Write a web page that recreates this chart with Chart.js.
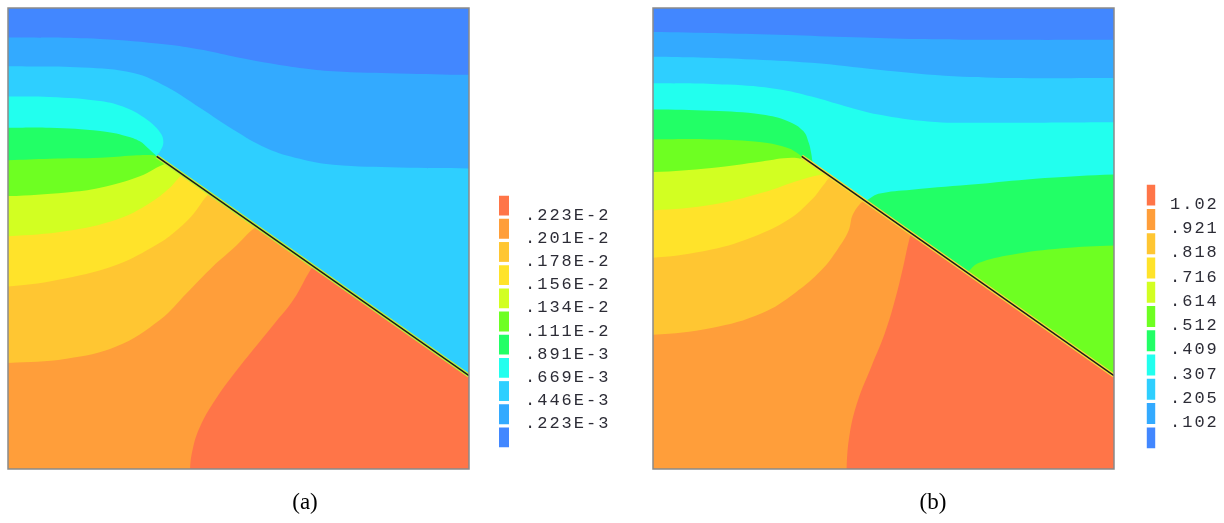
<!DOCTYPE html>
<html>
<head>
<meta charset="utf-8">
<script src="https://cdn.jsdelivr.net/npm/chart.js@4.4.1/dist/chart.umd.min.js"></script>
<style>
  body { margin: 0; background: #fff; width: 1224px; height: 523px; overflow: hidden; }
  canvas { position: absolute; top: 0; }
</style>
</head>
<body>
<canvas id="plotA" width="602" height="523" style="left:0"></canvas>
<canvas id="plotB" width="568" height="523" style="left:645px"></canvas>
<canvas id="keyA" width="140" height="523" style="left:490px"></canvas>
<canvas id="keyB" width="87" height="523" style="left:1137px"></canvas>
<script>
// band colours, lowest level first
const bandColors = ["#4287FF", "#33AAFF", "#2ECFFF", "#22FFEE", "#22FF66", "#6EFF22",
  "#D2FF22", "#FFE32A", "#FFC632", "#FF9E3A", "#FF7548"];

// legend labels, top to bottom as printed
const labelsA = [".223E-2", ".201E-2", ".178E-2", ".156E-2", ".134E-2", ".111E-2", ".891E-3", ".669E-3", ".446E-3", ".223E-3"];
const labelsB = ["1.02", ".921", ".818", ".716", ".614", ".512", ".409", ".307", ".205", ".102"];

// crack: tip, then end on the right edge (plate coords 0..100)
const crack = [[32.25, 67.83], [100, 20.25]];

// contour lines between band k and k+1, left to right
// a bare number = x position on the crack (the line follows the crack there)
const contoursA = [
  [[0, 93.6], [20, 93.3], [34.4, 92.1], [41.7, 91], [48.9, 89.5], [56.1, 88.1], [63.3, 87], [70.6, 86.3], [85, 85.8], [100, 85.5]],
  [[0, 87.35], [16.3, 87.1], [27.2, 85.9], [34.4, 82.9], [41.7, 78.3], [48.9, 73.6], [56.1, 69.6], [63.3, 67.3], [70.6, 66], [85, 65.4], [100, 65.2]],
  [[0, 80.8], [9.1, 80.7], [20, 79.8], [25.7, 78.3], [30.1, 75.8], [33, 73], [33.7, 70.9], [33, 68.9], 32.25, 100],
  [[0, 74], [9.1, 74], [20, 73.3], [25.7, 72.2], [28.6, 71.1], [30.4, 69.6], [31.9, 68.2], 32.25, 100],
  [[0, 67], [9.1, 67.3], [20, 67.5], [27.2, 68], [30.8, 68.1], 32.25, 100],
  [[0, 59.2], [12.7, 60], [20, 61], [28.6, 63.5], 34.4, 100],
  [[0, 50.5], [12.7, 51.6], [23.6, 54.1], [30.8, 57.7], [35.1, 61], 37.9, 100],
  [[0, 39.6], [12.7, 41.4], [23.6, 44.3], [32.3, 48.7], [35.9, 51.2], [39.8, 54.8], 43.7, 100],
  [[0, 23], [12.7, 23.9], [23.6, 26.6], [33, 32.4], [38.8, 38.2], [44.5, 44], [48.9, 47.9], 53.9, 100],
  [[39.5, 0], [40.2, 4.9], [41.7, 9.3], [44.5, 14.3], [48.9, 20.5], [57.6, 31.3], [61.9, 36.7], 66.2, 100],
];
const contoursB = [
  [[0, 94.8], [27.2, 94.2], [41.7, 93.7], [56.1, 93.3], [77.8, 93.1], [100, 93.1]],
  [[0, 89.4], [20, 88.9], [34.4, 88.1], [48.9, 86.6], [63.3, 85.3], [77.8, 84.8], [100, 84.8]],
  [[0, 83.7], [16.3, 83.4], [27.2, 82.4], [34.4, 80.8], [41.7, 78.7], [48.9, 76.9], [59.7, 75.4], [70.6, 75.1], [100, 75.2]],
  [[0, 78], [12.7, 77.7], [23.6, 76.9], [29.4, 75.4], [32.6, 73.3], [33.8, 70.7], [34.3, 68.6], 34.8, 46.0,
    [48.9, 59.7], [56.1, 60.6], [70.6, 61.8], [85, 63.1], [100, 63.9]],
  [[0, 71.5], [12.7, 71.5], [23.6, 70.9], [29.4, 69.6], [31.5, 68.4], 32.25, 68.0,
    [70.6, 44.7], [77.8, 46.5], [88.7, 47.9], [100, 48.5]],
  [[0, 64.4], [12.7, 65.3], [23.6, 66.7], [30.1, 67.5], 33.7, 100],
  [[0, 56.1], [12.7, 57.3], [23.6, 59.9], [32.3, 62.8], 37.7, 100],
  [[0, 45.8], [12.7, 47.6], [22.1, 50.5], [29.4, 54.1], [34.4, 58.4], [37.3, 62], 38.6, 100],
  [[0, 29.1], [12.7, 30.6], [23.6, 33.8], [30.8, 38.2], [36.6, 43.2], [40.2, 47.9], [42.4, 51.6], [43.4, 55.3], 45.8, 100],
  [[42, 0], [42.7, 7.8], [44.5, 15], [47.4, 22.3], [50.3, 29.5], [52.5, 36.7], [54.3, 44], [55.5, 49.4], 56.1, 100],
];

const crackY = x => crack[0][1] + (crack[1][1] - crack[0][1]) * (x - crack[0][0]) / (crack[1][0] - crack[0][0]);

// region "below level k" = everything above the contour line, closed round the top of the plate
function outline(line) {
  const pts = [];
  line.forEach((p, i) => {
    if (typeof p === "number") {
      if (typeof line[i - 1] === "number") pts.push({ x: p - 0.8, y: crackY(p - 0.8) });
      pts.push({ x: p, y: crackY(p) });
      if (typeof line[i + 1] === "number") pts.push({ x: p + 0.8, y: crackY(p + 0.8) });
    } else {
      pts.push({ x: p[0], y: p[1] });
    }
  });
  const first = pts[0], last = pts[pts.length - 1];
  const head = first.x <= 0 ? [{ x: -10, y: first.y }] : [{ x: -10, y: -10 }, { x: first.x, y: -10 }];
  const tail = typeof line[line.length - 1] === "number" ? { x: 110, y: crackY(110) } : { x: 110, y: last.y };
  return [{ x: -10, y: 110 }, ...head, ...pts, tail, { x: 110, y: 110 }];
}

const plateBox = {
  id: "plateBox",
  beforeDatasetsDraw(chart) {
    const { ctx, chartArea: a } = chart;
    ctx.save();
    ctx.fillStyle = bandColors[10];
    ctx.fillRect(a.left, a.top, a.right - a.left, a.bottom - a.top);
    ctx.restore();
  },
  afterDatasetsDraw(chart) {
    const { ctx, chartArea: a } = chart;
    ctx.save();
    ctx.strokeStyle = "#8a8a8a";
    ctx.lineWidth = 1.5;
    ctx.strokeRect(a.left, a.top, a.right - a.left, a.bottom - a.top);
    ctx.restore();
  },
};

function plotChart(id, contours, title, glow, rightGap) {
  const bands = contours.map((line, k) => ({
    data: outline(line),
    fill: "shape",
    backgroundColor: bandColors[k],
    borderColor: "rgba(0,0,0,0)",
    borderWidth: 0,
    tension: 0.4,
    order: k + 1,
  }));
  const crackPts = crack.map(([x, y]) => ({ x, y }));
  bands.push({ data: crackPts, borderColor: glow, borderWidth: 4, fill: false, tension: 0, order: 0.5 });
  bands.push({ data: crackPts, borderColor: "#1c1c1c", borderWidth: 1.6, fill: false, tension: 0, order: 0 });

  new Chart(document.getElementById(id), {
    type: "line",
    data: { datasets: bands },
    options: {
      responsive: false,
      animation: false,
      devicePixelRatio: 1,
      events: [],
      elements: { point: { radius: 0 } },
      layout: { padding: { left: 8, top: 8, right: 0, bottom: 0 } },
      scales: {
        x: { type: "linear", min: 0, max: 100, display: false },
        y: { type: "linear", min: 0, max: 100, display: false },
        gap: {
          position: "right",
          ticks: { display: false },
          grid: { display: false },
          border: { display: false },
          afterFit: s => { s.width = rightGap; },
        },
      },
      plugins: {
        legend: { display: false },
        tooltip: { enabled: false },
        title: {
          display: true,
          text: title,
          position: "bottom",
          color: "#000",
          font: { family: "Liberation Serif", size: 23, weight: "normal" },
          padding: { top: 20, bottom: 6.4 },
        },
      },
    },
    plugins: [plateBox],
  });
}

function keyChart(id, labels, o) {
  new Chart(document.getElementById(id), {
    type: "bar",
    data: {
      labels: [""],
      datasets: bandColors.map(c => ({
        data: [1],
        backgroundColor: c,
        borderColor: "#fff",
        borderWidth: { top: 2, bottom: 2, left: 0, right: 0 },
        borderSkipped: false,
        barThickness: o.bar,
      })),
    },
    options: {
      responsive: false,
      animation: false,
      devicePixelRatio: 1,
      events: [],
      layout: { padding: { left: o.left, top: o.top, bottom: o.bottom, right: 0 } },
      plugins: { legend: { display: false }, tooltip: { enabled: false } },
      scales: {
        x: { stacked: true, display: false },
        y: {
          stacked: true,
          position: "right",
          min: 0,
          max: 11,
          grid: { display: false },
          border: { display: false },
          afterFit: s => { s.width = o.axis; },
          afterBuildTicks: s => { s.ticks = labels.map((_, i) => ({ value: labels.length - i })); },
          ticks: {
            padding: o.pad,
            labelOffset: o.shift,
            color: "#2c2c36",
            font: { family: "Liberation Mono", size: 17 },
            callback: v => labels[labels.length - v],
          },
        },
      },
    },
    plugins: [{ id: "spacing", beforeDraw: c => { c.ctx.letterSpacing = "2px"; } }],
  });
}

plotChart("plotA", contoursA, "(a)", "#BFF23C", 133);
plotChart("plotB", contoursB, "(b)", "#F2E03C", 99);
keyChart("keyA", labelsA, { bar: 10, left: 9, axis: 121, top: 194, bottom: 74, pad: 8, shift: -2 });
keyChart("keyB", labelsB, { bar: 9, left: 9.5, axis: 68.5, top: 183, bottom: 73, pad: 6.5, shift: -3 });
</script>
</body>
</html>
